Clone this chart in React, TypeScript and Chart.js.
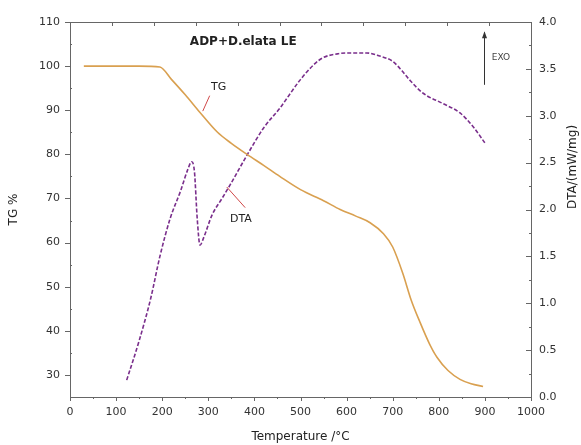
import React, { useEffect, useRef } from "react";
import { Chart, registerables } from "chart.js";

Chart.register(...registerables);

const tgTemps = [30, 100, 150, 195, 220, 250, 282, 320, 350, 384, 420, 455, 500, 550, 586, 620, 651, 680, 700, 722, 740, 759, 780, 796, 820, 846, 870, 896];
const tgValues = [100, 100, 100, 99.8, 97, 93.5, 89.5, 85, 82.5, 80, 77.5, 75, 72, 69.5, 67.5, 66, 64.5, 62, 59, 53, 47, 42, 37, 34, 31, 29, 28, 27.4];

const dtaTemps = [123, 150, 175, 195, 217, 240, 255, 264, 270, 276, 282, 290, 308, 330, 347, 384, 420, 455, 499, 530, 549, 580, 600, 644, 670, 700, 720, 737, 766, 809, 846, 875, 900];
const dtaValues = [0.18, 0.6, 1.05, 1.5, 1.9, 2.2, 2.42, 2.51, 2.4, 1.9, 1.62, 1.7, 1.94, 2.12, 2.26, 2.58, 2.87, 3.08, 3.38, 3.55, 3.62, 3.66, 3.67, 3.67, 3.64, 3.58, 3.48, 3.38, 3.24, 3.13, 3.03, 2.88, 2.71];

const leftTicks = [30, 40, 50, 60, 70, 80, 90, 100, 110];
const xTicks = [0, 100, 200, 300, 400, 500, 600, 700, 800, 900, 1000];

const FONT = "'DejaVu Sans', 'Liberation Sans', sans-serif";

const decorPlugin = {
  id: "decor",
  afterDraw(chart: any) {
    const { ctx, chartArea: a, scales } = chart;
    const x = scales.x, y = scales.y, y1 = scales.y1;
    ctx.save();
    ctx.strokeStyle = "#666";
    ctx.lineWidth = 1;
    ctx.strokeRect(Math.round(a.left) + 0.5, Math.round(a.top) + 0.5, Math.round(a.right - a.left), Math.round(a.bottom - a.top));
    const line = (x0: number, y0: number, x1: number, y1p: number) => {
      ctx.beginPath();
      ctx.moveTo(x0, y0);
      ctx.lineTo(x1, y1p);
      ctx.stroke();
    };
    for (let v = 0; v <= 1000; v += 50) {
      const px = Math.round(x.getPixelForValue(v)) + 0.5;
      const major = v % 100 === 0;
      line(px, a.bottom, px, a.bottom + (major ? 4 : 2));
    }
    for (let k = 1; k <= 10; k++) {
      const px = Math.round(x.getPixelForValue((1000 * k) / 11)) + 0.5;
      line(px, a.top, px, a.top + 4);
    }
    for (let v = 30; v <= 110; v += 5) {
      const py = Math.round(y.getPixelForValue(v)) + 0.5;
      if (v % 10 === 0) line(a.left - 5, py, a.left, py);
      else line(a.left, py, a.left + 2, py);
    }
    for (let v = 0; v <= 4.001; v += 0.25) {
      const py = Math.round(y1.getPixelForValue(v)) + 0.5;
      const major = Math.abs((v * 2) % 1) < 0.01;
      line(a.right - (major ? 5 : 2), py, a.right, py);
    }
    ctx.fillStyle = "#222";
    ctx.font = `12px ${FONT}`;
    ctx.textAlign = "center";
    ctx.textBaseline = "middle";
    ctx.fillText("Temperature /°C", (a.left + a.right) / 2, 437);
    ctx.save();
    ctx.translate(14, (a.top + a.bottom) / 2);
    ctx.rotate(-Math.PI / 2);
    ctx.fillText("TG %", 0, 0);
    ctx.restore();
    ctx.save();
    ctx.translate(573, 167);
    ctx.rotate(-Math.PI / 2);
    ctx.fillText("DTA/(mW/mg)", 0, 0);
    ctx.restore();
    ctx.font = `bold 12px ${FONT}`;
    ctx.textAlign = "left";
    ctx.fillText("ADP+D.elata LE", x.getPixelForValue(260), y.getPixelForValue(105.6));
    ctx.font = `11px ${FONT}`;
    ctx.fillText("TG", x.getPixelForValue(306), y.getPixelForValue(95.2));
    ctx.strokeStyle = "#d04848";
    line(x.getPixelForValue(303), y.getPixelForValue(93.3), x.getPixelForValue(288), y.getPixelForValue(89.8));
    ctx.fillText("DTA", x.getPixelForValue(347), y1.getPixelForValue(1.9));
    line(x.getPixelForValue(340), y1.getPixelForValue(2.24), x.getPixelForValue(380), y1.getPixelForValue(2.02));
    ctx.strokeStyle = "#333";
    const ax = Math.round(x.getPixelForValue(898)) + 0.5;
    const ayTop = y1.getPixelForValue(3.89);
    const ayBot = y1.getPixelForValue(3.33);
    line(ax, ayBot, ax, ayTop);
    ctx.fillStyle = "#333";
    ctx.beginPath();
    ctx.moveTo(ax, ayTop - 1);
    ctx.lineTo(ax - 2.5, ayTop + 6);
    ctx.lineTo(ax + 2.5, ayTop + 6);
    ctx.closePath();
    ctx.fill();
    ctx.font = `9px ${FONT}`;
    ctx.fillStyle = "#444";
    ctx.fillText("EXO", x.getPixelForValue(915), y1.getPixelForValue(3.62));
    ctx.restore();
  },
};

export default function App() {
  const ref = useRef<HTMLCanvasElement | null>(null);
  useEffect(() => {
    document.body.style.margin = "0";
    const tickFont = { family: FONT, size: 11 };
    const chart = new Chart(ref.current as HTMLCanvasElement, {
      type: "line",
      data: {
        datasets: [
          {
            label: "TG",
            data: tgTemps.map((t, i) => ({ x: t, y: tgValues[i] })),
            yAxisID: "y",
            borderColor: "#d9a050",
            borderWidth: 1.6,
            pointRadius: 0,
            cubicInterpolationMode: "monotone",
          },
          {
            label: "DTA",
            data: dtaTemps.map((t, i) => ({ x: t, y: dtaValues[i] })),
            yAxisID: "y1",
            borderColor: "#7a2f8c",
            borderWidth: 1.6,
            borderDash: [4, 2],
            pointRadius: 0,
            cubicInterpolationMode: "monotone",
          },
        ],
      },
      options: {
        animation: false,
        responsive: true,
        maintainAspectRatio: false,
        layout: { padding: { top: 22, left: 0, right: 0, bottom: 0 } },
        plugins: { legend: { display: false }, tooltip: { enabled: false } },
        scales: {
          x: {
            type: "linear",
            min: 0,
            max: 1000,
            grid: { display: false, drawTicks: false },
            border: { display: false },
            ticks: { stepSize: 100, padding: 9, color: "#333", font: tickFont, autoSkip: false, maxRotation: 0, callback: (v: any) => String(v) },
            afterBuildTicks: (s: any) => { s.ticks = xTicks.map((v) => ({ value: v })); },
            afterFit: (s: any) => { s.height = 48; },
          },
          y: {
            type: "linear",
            position: "left",
            min: 25,
            max: 110,
            grid: { display: false, drawTicks: false },
            border: { display: false },
            ticks: { padding: 10, color: "#333", font: tickFont, callback: (v: any) => String(v) },
            afterBuildTicks: (s: any) => { s.ticks = leftTicks.map((v) => ({ value: v })); },
            afterFit: (s: any) => { s.width = 70; },
          },
          y1: {
            type: "linear",
            position: "right",
            min: 0,
            max: 4,
            grid: { display: false, drawTicks: false },
            border: { display: false },
            ticks: { stepSize: 0.5, padding: 8, color: "#333", font: tickFont, callback: (v: any) => Number(v).toFixed(1) },
            afterFit: (s: any) => { s.width = 50; },
          },
        },
      },
      plugins: [decorPlugin],
    } as any);
    return () => chart.destroy();
  }, []);
  return (
    <div style={{ width: 581, height: 445, position: "relative" }}>
      <canvas ref={ref} />
    </div>
  );
}
